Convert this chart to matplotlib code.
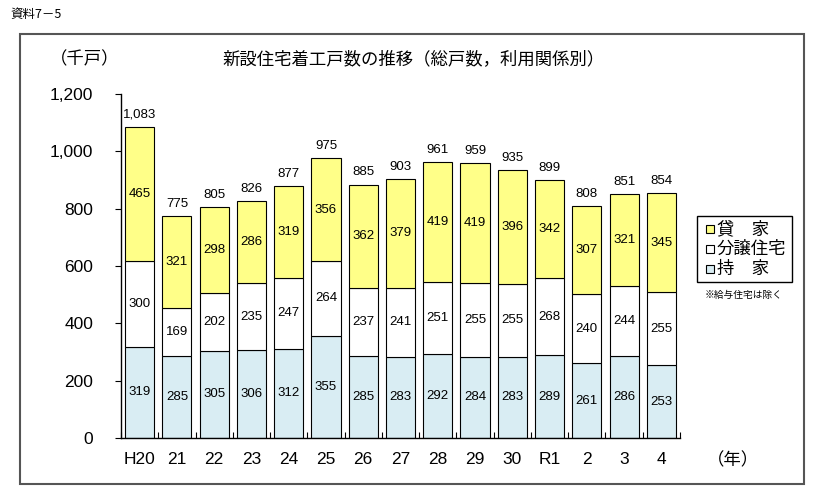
import matplotlib
matplotlib.use('Agg')
from matplotlib import pyplot as plt
from matplotlib.patches import Rectangle
import numpy as np

plt.rcParams['font.family'] = ['Liberation Sans', 'Noto Sans CJK JP', 'DejaVu Sans']

years = ['H20', '21', '22', '23', '24', '25', '26', '27', '28', '29', '30', 'R1', '2', '3', '4']
mochiie = [319, 285, 305, 306, 312, 355, 285, 283, 292, 284, 283, 289, 261, 286, 253]
bunjo = [300, 169, 202, 235, 247, 264, 237, 241, 251, 255, 255, 268, 240, 244, 255]
kashiya = [465, 321, 298, 286, 319, 356, 362, 379, 419, 419, 396, 342, 307, 321, 345]
totals = [1083, 775, 805, 826, 877, 975, 885, 903, 961, 959, 935, 899, 808, 851, 854]

c_kashiya = '#ffff88'
c_bunjo = '#ffffff'
c_mochi = '#d9edf3'
cjk = ['Noto Sans CJK JP', 'DejaVu Sans']

fig = plt.figure(figsize=(8.2, 4.96), dpi=100)
ax = fig.add_axes([121 / 820, 1 - 438 / 496, 559 / 820, (438 - 94) / 496])

x = np.arange(len(years)) + 0.5
w = 0.78
m = np.array(mochiie)
b = np.array(bunjo)
k = np.array(kashiya)
ax.bar(x, m, w, color=c_mochi, edgecolor='black', linewidth=0.8)
ax.bar(x, b, w, bottom=m, color=c_bunjo, edgecolor='black', linewidth=0.8)
ax.bar(x, k, w, bottom=m + b, color=c_kashiya, edgecolor='black', linewidth=0.8)

for i in range(len(years)):
    ax.text(x[i], m[i] / 2, str(m[i]), ha='center', va='center', fontsize=9.5)
    ax.text(x[i], m[i] + b[i] / 2, str(b[i]), ha='center', va='center', fontsize=9.5)
    ax.text(x[i], m[i] + b[i] + k[i] / 2, str(k[i]), ha='center', va='center', fontsize=9.5)
    ax.text(x[i], m[i] + b[i] + k[i] + 22, '{:,}'.format(totals[i]),
            ha='center', va='bottom', fontsize=9.5)

ax.set_xlim(0, len(years))
ax.set_ylim(0, 1200)
ax.set_yticks(range(0, 1201, 200))
ax.set_yticklabels(['{:,}'.format(v) for v in range(0, 1201, 200)], fontsize=12.5)
ax.set_xticks(np.arange(len(years) + 1), minor=False)
ax.set_xticklabels([])
ax.set_xticks(x, minor=True)
ax.set_xticklabels(years, minor=True, fontsize=12.5)
ax.tick_params(axis='x', which='major', direction='in', length=4, width=0.8)
ax.tick_params(axis='x', which='minor', length=0, pad=10)
ax.tick_params(axis='y', direction='out', length=4, width=0.8, pad=16)
for s in ['top', 'right']:
    ax.spines[s].set_visible(False)
for s in ['left', 'bottom']:
    ax.spines[s].set_linewidth(1.0)

# outer frame and texts
fig.patches.append(Rectangle((20 / 820, 1 - 484 / 496), 784 / 820, 450 / 496,
                             transform=fig.transFigure, fill=False,
                             edgecolor='#555555', linewidth=1.5))
fig.text(10 / 820, 1 - 14 / 496, '資料7－5', fontsize=9, va='center', ha='left', family=cjk)
fig.text(85 / 820, 1 - 59 / 496, '（千戸）', fontsize=12.5, va='center', ha='center', family=cjk)
fig.text(414 / 820, 1 - 59 / 496, '新設住宅着工戸数の推移（総戸数，利用関係別）',
         fontsize=12.5, va='center', ha='center', family=cjk)
fig.text(733 / 820, 1 - 460 / 496, '（年）', fontsize=12.5, va='center', ha='center', family=cjk)

# legend
lx0, ly0, lw, lh = 697, 216, 95, 66
fig.patches.append(Rectangle((lx0 / 820, 1 - (ly0 + lh) / 496), lw / 820, lh / 496,
                             transform=fig.transFigure, fill=False,
                             edgecolor='black', linewidth=1.0))
leg_labels = ['貸　家', '分譲住宅', '持　家']
leg_colors = [c_kashiya, c_bunjo, c_mochi]
for j in range(3):
    yy = ly0 + 13 + j * 20
    fig.patches.append(Rectangle((706 / 820, 1 - (yy + 4) / 496), 8 / 820, 8 / 496,
                                 transform=fig.transFigure, facecolor=leg_colors[j],
                                 edgecolor='black', linewidth=0.8))
    fig.text(717 / 820, 1 - yy / 496, leg_labels[j], fontsize=12.5,
             va='center', ha='left', family=cjk)
fig.text(744 / 820, 1 - 295 / 496, '※給与住宅は除く', fontsize=7,
         va='center', ha='center', family=cjk)

fig.savefig('out.png', dpi=100)
